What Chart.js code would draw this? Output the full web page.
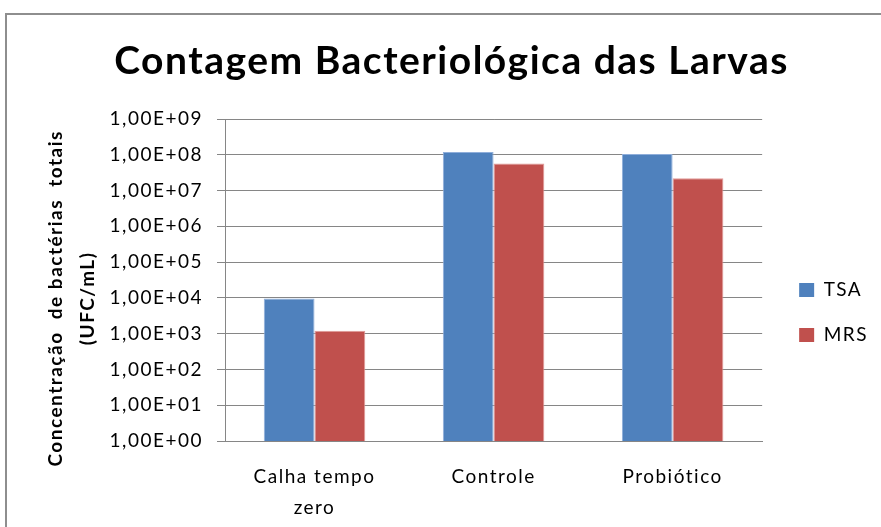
<!DOCTYPE html>
<html>
<head>
<meta charset="utf-8">
<title>Contagem Bacteriológica das Larvas</title>
<script src="https://cdn.jsdelivr.net/npm/chart.js"></script>
<style>
    html, body { margin: 0; padding: 0; background: #fff; overflow: hidden; }
    .frame { position: absolute; left: 5px; top: 13px; width: 1000px; height: 700px; border: 2px solid #8e8e8e; }
    .chart-box { position: absolute; left: 0; top: 0; width: 881px; height: 527px; }
</style>
</head>
<body>
<div class="frame"></div>
<div class="chart-box"><canvas id="larvasChart" width="881" height="527"></canvas></div>
<script>
    // values (UFC/mL)
    var categories = [['Calha tempo', 'zero'], 'Controle', 'Probiótico'];
    var tsaValues = [9600, 1.19e8, 1.05e8];
    var mrsValues = [1200, 5.7e7, 2.2e7];
    var yTicks = [1, 1e1, 1e2, 1e3, 1e4, 1e5, 1e6, 1e7, 1e8, 1e9];

    function sciLabel(v) {
        var e = Math.round(Math.log10(v));
        return '1,00E+' + (e < 10 ? '0' : '') + e;
    }

    // Excel-ish wide text: a bit of letter spacing on every label
    var spacing = {
        id: 'spacing',
        beforeUpdate: function (chart) { chart.ctx.letterSpacing = '1.5px'; },
        beforeDraw: function (chart) { chart.ctx.letterSpacing = '1.5px'; }
    };

    // nudge title and legend to where the original has them
    var shiftBoxes = {
        id: 'shiftBoxes',
        afterLayout: function (chart) {
            var lg = chart.legend;
            lg.left += 11; lg.right += 11;
            lg.top += 49; lg.bottom += 49;
            var tb = chart.titleBlock;
            tb.left += 18; tb.right += 18;
        }
    };

    var ctx = document.getElementById('larvasChart').getContext('2d');
    var larvasChart = new Chart(ctx, {
        type: 'bar',
        data: {
            labels: categories,
            datasets: [
                { label: 'TSA', data: tsaValues, backgroundColor: '#4F81BD', borderColor: '#8FAEDA', borderWidth: 1 },
                { label: 'MRS', data: mrsValues, backgroundColor: '#C0504D', borderColor: '#E29A98', borderWidth: 1 }
            ]
        },
        options: {
            responsive: false,
            animation: false,
            layout: { padding: { left: 0, right: 14, top: 0, bottom: 0 } },
            datasets: { bar: { categoryPercentage: 0.567, barPercentage: 1 } },
            plugins: {
                title: {
                    display: true,
                    text: 'Contagem Bacteriológica das Larvas',
                    color: '#000',
                    font: { family: 'Lato', size: 39, weight: 'bold' },
                    padding: { top: 37.6, bottom: 34.6 }
                },
                legend: {
                    position: 'right',
                    labels: {
                        boxWidth: 15,
                        boxHeight: 14,
                        padding: 26,
                        color: '#000',
                        font: { family: 'Lato', size: 19 },
                        generateLabels: function (chart) {
                            return Chart.defaults.plugins.legend.labels.generateLabels(chart).map(function (it) {
                                it.lineWidth = 0;
                                return it;
                            });
                        }
                    }
                },
                tooltip: { enabled: false }
            },
            scales: {
                x: {
                    grid: { display: false, drawTicks: false },
                    border: { color: '#868686' },
                    ticks: {
                        color: '#000',
                        padding: 20,
                        maxRotation: 0,
                        autoSkip: false,
                        font: { family: 'Lato', size: 19, lineHeight: 1.63 }
                    },
                    afterFit: function (s) { s.height = 86; }
                },
                y: {
                    type: 'logarithmic',
                    min: 1,
                    max: 1e9,
                    afterBuildTicks: function (s) {
                        s.ticks = yTicks.map(function (v) { return { value: v }; });
                    },
                    afterFit: function (s) { s.width = 225; },
                    grid: { color: '#868686', tickLength: 8 },
                    border: { color: '#868686' },
                    ticks: {
                        color: '#000',
                        padding: 14,
                        font: { family: 'Lato', size: 19 },
                        callback: function (v) { return sciLabel(v); }
                    },
                    title: {
                        display: true,
                        text: ['Concentração  de bactérias  totais      ', '(UFC/mL)      '],
                        color: '#000',
                        font: { family: 'Lato', size: 19, weight: 'bold', lineHeight: 1.68 },
                        padding: { top: 40, bottom: 0 }
                    }
                }
            }
        },
        plugins: [spacing, shiftBoxes]
    });
</script>
</body>
</html>
